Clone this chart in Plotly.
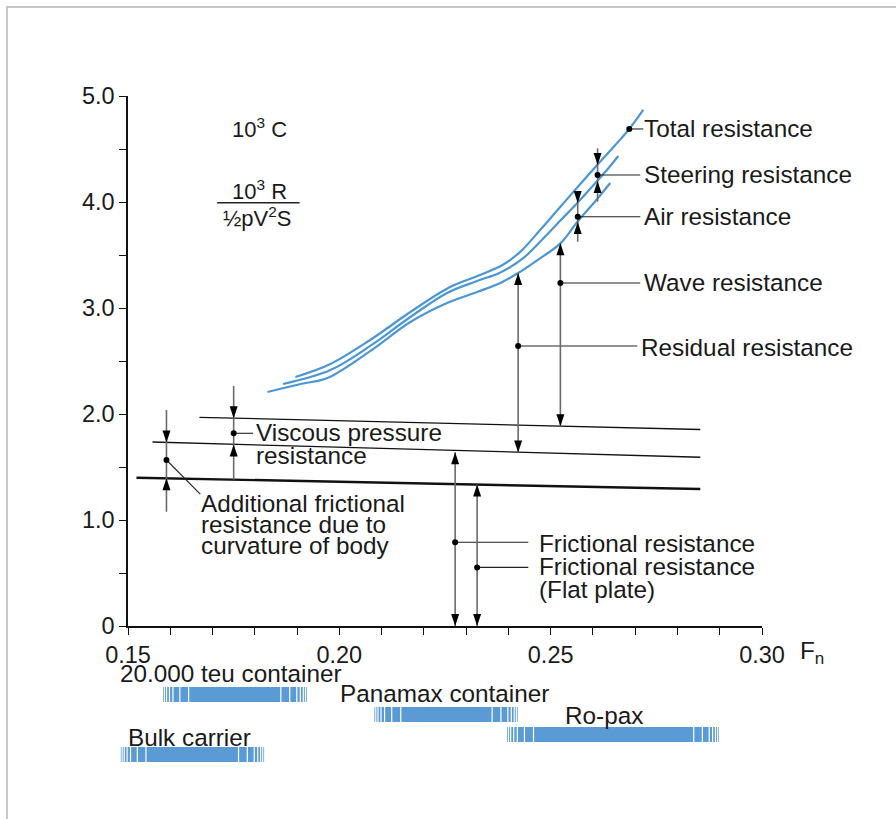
import plotly.graph_objects as go

# ------------------------------------------------------------------ data
# resistance coefficient curves (10^3 C) vs Froude number Fn
fn_total = [0.1896, 0.1979, 0.2073, 0.2168, 0.2262, 0.2333, 0.2388, 0.2428, 0.2475, 0.2523, 0.2570, 0.2610, 0.2653, 0.2686, 0.2719]
c_total = [2.349, 2.472, 2.698, 2.962, 3.198, 3.311, 3.410, 3.530, 3.735, 3.955, 4.170, 4.349, 4.538, 4.689, 4.868]
fn_air = [0.1867, 0.1979, 0.2073, 0.2168, 0.2255, 0.2326, 0.2381, 0.2435, 0.2475, 0.2523, 0.2563, 0.2610, 0.2641, 0.2660]
c_air = [2.283, 2.415, 2.642, 2.915, 3.142, 3.255, 3.335, 3.470, 3.625, 3.825, 3.991, 4.198, 4.340, 4.434]
fn_resid = [0.1830, 0.1908, 0.1972, 0.2073, 0.2168, 0.2255, 0.2326, 0.2381, 0.2423, 0.2468, 0.2523, 0.2563, 0.2606, 0.2641]
c_resid = [2.208, 2.283, 2.340, 2.594, 2.868, 3.047, 3.151, 3.236, 3.330, 3.450, 3.610, 3.811, 4.009, 4.179]

# straight lines
fn_visc = [0.1669, 0.2854]
c_visc = [1.969, 1.854]
fn_fric = [0.1558, 0.2854]
c_fric = [1.736, 1.592]
fn_flat = [0.1520, 0.2854]
c_flat = [1.399, 1.292]

# dimension arrows
arrow_fn = [0.1591, 0.1750, 0.2274, 0.2326, 0.2423, 0.2523, 0.2564, 0.2611]
arrow_lo = [1.078, 1.381, 0.0, 0.0, 1.637, 1.884, 3.625, 4.003]
arrow_hi = [2.038, 2.264, 1.640, 1.335, 3.330, 3.610, 4.031, 4.506]
arrow_down_tip = [1.732, 1.961, 0.0, 0.0, 1.637, 1.884, 3.991, 4.349]
arrow_up_tip = [1.393, 1.713, 1.640, 1.335, 3.330, 3.610, 3.811, 4.198]
arrow_dot = [1.566, 1.818, 0.790, 0.553, 2.642, 3.236, 3.861, 4.255]
leader_end_fn = [0.1671, 0.1796, 0.2447, 0.2447, 0.2705, 0.2712, 0.2712, 0.2712]
leader_end_c = [1.245, 1.818, 0.790, 0.553, 2.642, 3.236, 3.861, 4.255]

total_dot_fn = [0.2686]
total_dot_c = [4.689]
total_leader_fn = [0.2686, 0.2719]

# labels
label_text = ["Total resistance", "Steering resistance", "Air resistance", "Wave resistance",
              "Residual resistance", "Viscous pressure", "resistance",
              "Additional frictional", "resistance due to", "curvature of body",
              "Frictional resistance", "Frictional resistance", "(Flat plate)"]
label_fn = [0.2718, 0.2718, 0.2718, 0.2718, 0.2711, 0.1800, 0.1800,
            0.1670, 0.1670, 0.1670, 0.2469, 0.2469, 0.2469]
label_c = [4.689, 4.255, 3.861, 3.236, 2.632, 1.821, 1.604,
           1.160, 0.962, 0.764, 0.783, 0.557, 0.340]

# ship speed ranges
ship_names = ["20.000 teu container", "Panamax container", "Ro-pax", "Bulk carrier"]
ship_fn_start = [0.1583, 0.2083, 0.2397, 0.1483]
ship_fn_solid_start = [0.1646, 0.2148, 0.2462, 0.1545]
ship_fn_solid_end = [0.1859, 0.2359, 0.2836, 0.1759]
ship_fn_end = [0.1923, 0.2422, 0.2898, 0.1822]

x_tickvals = [0.15, 0.16, 0.17, 0.18, 0.19, 0.20, 0.21, 0.22, 0.23, 0.24, 0.25, 0.26, 0.27, 0.28, 0.29, 0.30]
x_ticktext = ["0.15", "", "", "", "", "0.20", "", "", "", "", "0.25", "", "", "", "", "0.30"]
y_tickvals = [0, 0.5, 1, 1.5, 2, 2.5, 3, 3.5, 4, 4.5, 5]
y_ticktext = ["0", "", "1.0", "", "2.0", "", "3.0", "", "4.0", "", "5.0"]

# ------------------------------------------------------------------ layout constants
W, H = 896, 819
ML, MR, MT, MB = 128, 134, 96, 193
PW, PH = W - ML - MR, H - MT - MB
XR = [0.15, 0.30]
YR = [0, 5]
DX = (XR[1] - XR[0]) / PW   # data per px
DY = (YR[1] - YR[0]) / PH


def xp(fn):
    """Fn value -> paper x"""
    return (fn - XR[0]) / (XR[1] - XR[0])


def ypx(py):
    """pixel row -> paper y"""
    return (MT + PH - py) / PH


FONT = "Liberation Sans, Arial, Helvetica, sans-serif"
FS = 24.3
TXT = "#1a1a1a"
BLUE = "#4a96d6"
BAR_BLUE = "#5b9bd5"

fig = go.Figure()

for fx, cy in [(fn_total, c_total), (fn_air, c_air), (fn_resid, c_resid)]:
    fig.add_trace(go.Scatter(x=fx, y=cy, mode="lines",
                             line=dict(color=BLUE, width=2.2, shape="spline", smoothing=1.0),
                             hoverinfo="skip", showlegend=False))

for fx, cy, w in [(fn_visc, c_visc, 1.3), (fn_fric, c_fric, 1.3), (fn_flat, c_flat, 2.4)]:
    fig.add_trace(go.Scatter(x=fx, y=cy, mode="lines", line=dict(color="#111111", width=w),
                             hoverinfo="skip", showlegend=False))

shapes = []
# vertical dimension lines + arrowheads
for i, xf in enumerate(arrow_fn):
    fig.add_trace(go.Scatter(x=[xf, xf], y=[arrow_lo[i], arrow_hi[i]], mode="lines",
                             line=dict(color="#6a6a6a", width=1.6), hoverinfo="skip", showlegend=False))
    fig.add_trace(go.Scatter(x=[xf, leader_end_fn[i]], y=[arrow_dot[i], leader_end_c[i]], mode="lines",
                             line=dict(color="#222222", width=1.1), hoverinfo="skip", showlegend=False))
    hw, hh = 4 * DX, 12 * DY
    d = arrow_down_tip[i]
    u = arrow_up_tip[i]
    shapes.append(dict(type="path", xref="x", yref="y",
                       path=f"M {xf-hw},{d+hh} L {xf+hw},{d+hh} L {xf},{d} Z",
                       fillcolor="black", line=dict(width=0)))
    shapes.append(dict(type="path", xref="x", yref="y",
                       path=f"M {xf-hw},{u-hh} L {xf+hw},{u-hh} L {xf},{u} Z",
                       fillcolor="black", line=dict(width=0)))

fig.add_trace(go.Scatter(x=total_leader_fn, y=[total_dot_c[0], total_dot_c[0]], mode="lines",
                         line=dict(color="#222222", width=1.1), hoverinfo="skip", showlegend=False))
fig.add_trace(go.Scatter(x=arrow_fn + total_dot_fn, y=arrow_dot + total_dot_c, mode="markers",
                         marker=dict(color="black", size=6), cliponaxis=False,
                         hoverinfo="skip", showlegend=False))

annotations = []
for t, xf, cy in zip(label_text, label_fn, label_c):
    annotations.append(dict(text=t, x=xf, y=cy, xref="x", yref="y", xanchor="left", yanchor="middle",
                            showarrow=False, borderpad=0,
                            font=dict(family=FONT, size=FS, color=TXT)))

# coefficient legend
annotations.append(dict(text="10<sup>3</sup> C", x=0.1811, y=4.695, xref="x", yref="y",
                        showarrow=False, font=dict(family=FONT, size=22, color=TXT)))
annotations.append(dict(text="10<sup>3</sup> R", x=0.1812, y=4.113, xref="x", yref="y",
                        showarrow=False, font=dict(family=FONT, size=22, color=TXT)))
annotations.append(dict(text="½pV<sup>2</sup>S", x=0.1807, y=3.861, xref="x", yref="y",
                        showarrow=False, font=dict(family=FONT, size=22, color=TXT)))
shapes.append(dict(type="line", xref="x", yref="y", x0=0.1711, x1=0.1906, y0=3.993, y1=3.993,
                   line=dict(color="#222222", width=1.3)))

# axis title Fn
annotations.append(dict(text="F<sub>n</sub>", x=(799 - ML) / PW, y=ypx(652),
                        xref="paper", yref="paper", xanchor="left", yanchor="middle",
                        showarrow=False, borderpad=0, font=dict(family=FONT, size=FS, color=TXT)))

# ship bars
bar_top_px = [687, 707, 727, 747]
label_cy_px = [673, 693, 715, 737]
label_x_px = [119, 339, 564, 127]
BAR_H = 15
stripe_fracs = [0.05, 0.13, 0.24, 0.37, 0.63, 0.96]
for k, name in enumerate(ship_names):
    y1 = ypx(bar_top_px[k])
    y0 = y1 - BAR_H / PH
    shapes.append(dict(type="rect", xref="paper", yref="paper",
                       x0=xp(ship_fn_start[k]), x1=xp(ship_fn_end[k]),
                       y0=y0, y1=y1, fillcolor=BAR_BLUE, line=dict(width=0), layer="above"))
    lz = ship_fn_solid_start[k] - ship_fn_start[k]
    rz = ship_fn_end[k] - ship_fn_solid_end[k]
    for f in stripe_fracs:
        for xs in (ship_fn_start[k] + f * lz, ship_fn_end[k] - f * rz):
            shapes.append(dict(type="line", xref="paper", yref="paper", x0=xp(xs), x1=xp(xs), y0=y0, y1=y1,
                               line=dict(color="white", width=1.2), layer="above"))
    annotations.append(dict(text=name, x=(label_x_px[k] - ML) / PW, y=ypx(label_cy_px[k]),
                            xref="paper", yref="paper", xanchor="left", yanchor="middle",
                            showarrow=False, borderpad=0,
                            font=dict(family=FONT, size=FS, color=TXT)))

# outer frame (left and top edges visible)
shapes.append(dict(type="rect", xref="paper", yref="paper",
                   x0=(7 - ML) / PW, x1=(W + 20 - ML) / PW,
                   y0=ypx(H + 20), y1=ypx(7),
                   line=dict(color="#c8c8c8", width=2), fillcolor="rgba(0,0,0,0)", layer="below"))

axis_common = dict(showgrid=False, zeroline=False, showline=True, linecolor="#111111", linewidth=1.5,
                   ticks="outside", ticklen=7, tickwidth=1.3, tickcolor="#111111",
                   tickfont=dict(family=FONT, size=23.5, color=TXT))

fig.update_layout(
    width=W, height=H, autosize=False,
    margin=dict(l=ML, r=MR, t=MT, b=MB, pad=0),
    paper_bgcolor="white", plot_bgcolor="white",
    xaxis=dict(range=XR, tickmode="array", tickvals=x_tickvals, ticktext=x_ticktext, **axis_common),
    yaxis=dict(range=YR, tickmode="array", tickvals=y_tickvals, ticktext=y_ticktext, **axis_common),
    shapes=shapes, annotations=annotations, showlegend=False,
)

fig.write_html("out.html", config={"displayModeBar": False})
